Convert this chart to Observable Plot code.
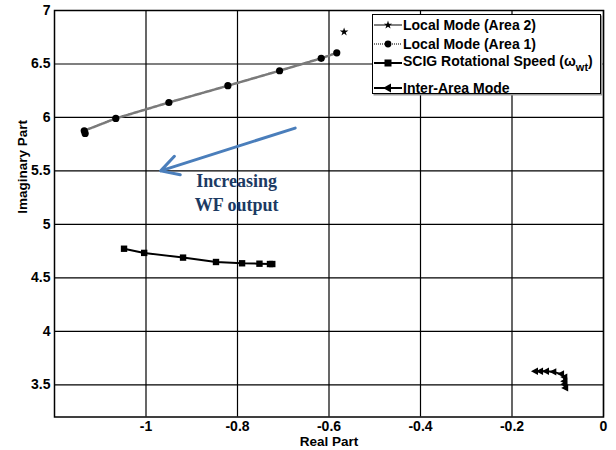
<!DOCTYPE html>
<html>
<head>
<meta charset="utf-8">
<script src="https://cdn.jsdelivr.net/npm/d3@7"></script>
<script src="https://cdn.jsdelivr.net/npm/@observablehq/plot@0.6"></script>
<style>
  html, body { margin: 0; padding: 0; background: #fff; }
  #wrap { position: relative; width: 616px; height: 450px; font-family: "Liberation Sans", Arial, sans-serif; }
  #legend { position: absolute; left: 372px; top: 14px; width: 227px; height: 78px; border: 1.5px solid #000; background: #fff; box-shadow: 1.5px 1.5px 0 #999; }
  .row { position: absolute; left: 0; height: 18px; display: flex; align-items: center; font-weight: bold; font-size: 14px; white-space: nowrap; color: #000; }
  .row svg { width: 30px; height: 14px; margin-right: 0px; }
  sub { font-size: 11px; vertical-align: -5px; }
</style>
</head>
<body>
<div id="wrap"></div>
<script>
// ---- data ----
const area2Re = [-0.567];
const area2Im = [6.80];

const area1Re = [-0.583, -0.617, -0.708, -0.821, -0.950, -1.066, -1.135, -1.133];
const area1Im = [6.604, 6.553, 6.437, 6.297, 6.140, 5.991, 5.876, 5.851];

const scigRe = [-0.724, -0.729, -0.752, -0.790, -0.847, -0.919, -1.004, -1.048];
const scigIm = [4.630, 4.630, 4.633, 4.637, 4.649, 4.690, 4.734, 4.773];

const interRe = [-0.084, -0.086, -0.086, -0.086, -0.093, -0.110, -0.126, -0.139, -0.150];
const interIm = [3.472, 3.505, 3.535, 3.573, 3.603, 3.622, 3.628, 3.628, 3.628];

const xTicks = [-1, -0.8, -0.6, -0.4, -0.2, 0];
const yTicks = [3.5, 4, 4.5, 5, 5.5, 6, 6.5, 7];

const arrowRe = [-0.674, -0.968];   // from, to
const arrowIm = [5.901, 5.501];
const noteRe = [-0.802];
const noteIm = [5.31];
const noteText = ["Increasing\nWF output"];

const legendLabels = ["Local Mode (Area 2)", "Local Mode (Area 1)", "SCIG Rotational Speed", "Inter-Area Mode"];

// ---- tables ----
const pts = (re, im) => re.map((x, i) => ({x, y: im[i]}));
const area2 = pts(area2Re, area2Im);
const area1 = pts(area1Re, area1Im);
const scig = pts(scigRe, scigIm);
const inter = pts(interRe, interIm);
const arrowData = [{x1: arrowRe[0], y1: arrowIm[0], x2: arrowRe[1], y2: arrowIm[1]}];
const noteData = noteText.map((t, i) => ({x: noteRe[i], y: noteIm[i], t}));

const leftTriangle = {
  draw(context, size) {
    const r = Math.sqrt(size / Math.PI) * 1.15;
    context.moveTo(-r, 0);
    context.lineTo(r * 0.8, -r * 0.95);
    context.lineTo(r * 0.8, r * 0.95);
    context.closePath();
  }
};

const fmt = d => String(d);

const chart = Plot.plot({
  width: 616,
  height: 450,
  marginLeft: 54,
  marginRight: 13,
  marginTop: 10,
  marginBottom: 33.5,
  style: {fontFamily: "'Liberation Sans', Arial, sans-serif", background: "#fff"},
  x: {domain: [-1.2, 0]},
  y: {domain: [3.2, 7]},
  marks: [
    Plot.gridX(xTicks, {stroke: "#000", strokeOpacity: 1, strokeWidth: 1.2}),
    Plot.gridY(yTicks, {stroke: "#000", strokeOpacity: 1, strokeWidth: 1.2}),
    Plot.axisX({ticks: xTicks, tickFormat: fmt, tickSize: 0, tickPadding: 4, fontSize: 14, fontWeight: "bold", fill: "#000", label: null}),
    Plot.axisY({ticks: yTicks, tickFormat: fmt, tickSize: 0, tickPadding: 4, fontSize: 14, fontWeight: "bold", fill: "#000", label: null}),
    Plot.text(["Real Part"], {frameAnchor: "bottom", dy: 24.5, lineAnchor: "middle", fontSize: 13.5, fontWeight: "bold", fill: "#000"}),
    Plot.text(["Imaginary Part"], {frameAnchor: "left", dx: -32, rotate: -90, lineAnchor: "middle", fontSize: 13.5, fontWeight: "bold", fill: "#000"}),
    // series
    Plot.line(area1, {x: "x", y: "y", stroke: "#7a7a7a", strokeWidth: 2.5, strokeDasharray: "1,1"}),
    Plot.dot(area1, {x: "x", y: "y", symbol: "circle", r: 3.6, fill: "#000", stroke: "none"}),
    Plot.line(area2, {x: "x", y: "y", stroke: "#000", strokeWidth: 1}),
    Plot.dot(area2, {x: "x", y: "y", symbol: "star", r: 2.7, fill: "#000", stroke: "none"}),
    Plot.line(scig, {x: "x", y: "y", stroke: "#000", strokeWidth: 2}),
    Plot.dot(scig, {x: "x", y: "y", symbol: "square", r: 3.6, fill: "#000", stroke: "none"}),
    Plot.line(inter, {x: "x", y: "y", stroke: "#000", strokeWidth: 2}),
    Plot.dot(inter, {x: "x", y: "y", symbol: leftTriangle, r: 3.4, fill: "#000", stroke: "none"}),
    // annotation
    Plot.arrow(arrowData, {x1: "x1", y1: "y1", x2: "x2", y2: "y2", stroke: "#4a7ebb", strokeWidth: 3, headLength: 10, headAngle: 58}),
    Plot.text(noteData, {x: "x", y: "y", text: "t", fontFamily: "'Liberation Serif', 'Times New Roman', serif", fontWeight: "bold", fontSize: 18, lineHeight: 1.33, lineAnchor: "middle", fill: "#1c3a63"}),
    Plot.frame({stroke: "#000", strokeWidth: 1.5})
  ]
});

const wrap = document.getElementById("wrap");
wrap.appendChild(chart);

// ---- legend (HTML overlay) ----
const legend = document.createElement("div");
legend.id = "legend";
const rowTops = [1, 20, 39, 63.5];
const icon = (kind) => {
  const s = {
    star: `<line x1="1" y1="7" x2="29" y2="7" stroke="#000" stroke-width="1"/><path d="${d3.symbol(d3.symbolStar, 22)()}" transform="translate(15,7)" fill="#000"/>`,
    circle: `<line x1="1" y1="7" x2="29" y2="7" stroke="#7a7a7a" stroke-width="2" stroke-dasharray="1,1"/><circle cx="15" cy="7" r="3.4" fill="#000"/>`,
    square: `<line x1="1" y1="7" x2="29" y2="7" stroke="#000" stroke-width="2"/><rect x="11.5" y="3.5" width="7" height="7" fill="#000"/>`,
    tri: `<line x1="1" y1="7" x2="29" y2="7" stroke="#000" stroke-width="2"/><path d="M10,7 L18,2.5 L18,11.5 Z" fill="#000"/>`
  }[kind];
  return `<svg viewBox="0 0 30 14">${s}</svg>`;
};
const kinds = ["star", "circle", "square", "tri"];
legendLabels.forEach((lab, i) => {
  const row = document.createElement("div");
  row.className = "row";
  row.style.top = rowTops[i] + "px";
  let html = lab;
  if (kinds[i] === "square") html = lab + " (&omega;<sub>wt</sub>)";
  row.innerHTML = icon(kinds[i]) + "<span>" + html + "</span>";
  legend.appendChild(row);
});
wrap.appendChild(legend);
</script>
</body>
</html>
